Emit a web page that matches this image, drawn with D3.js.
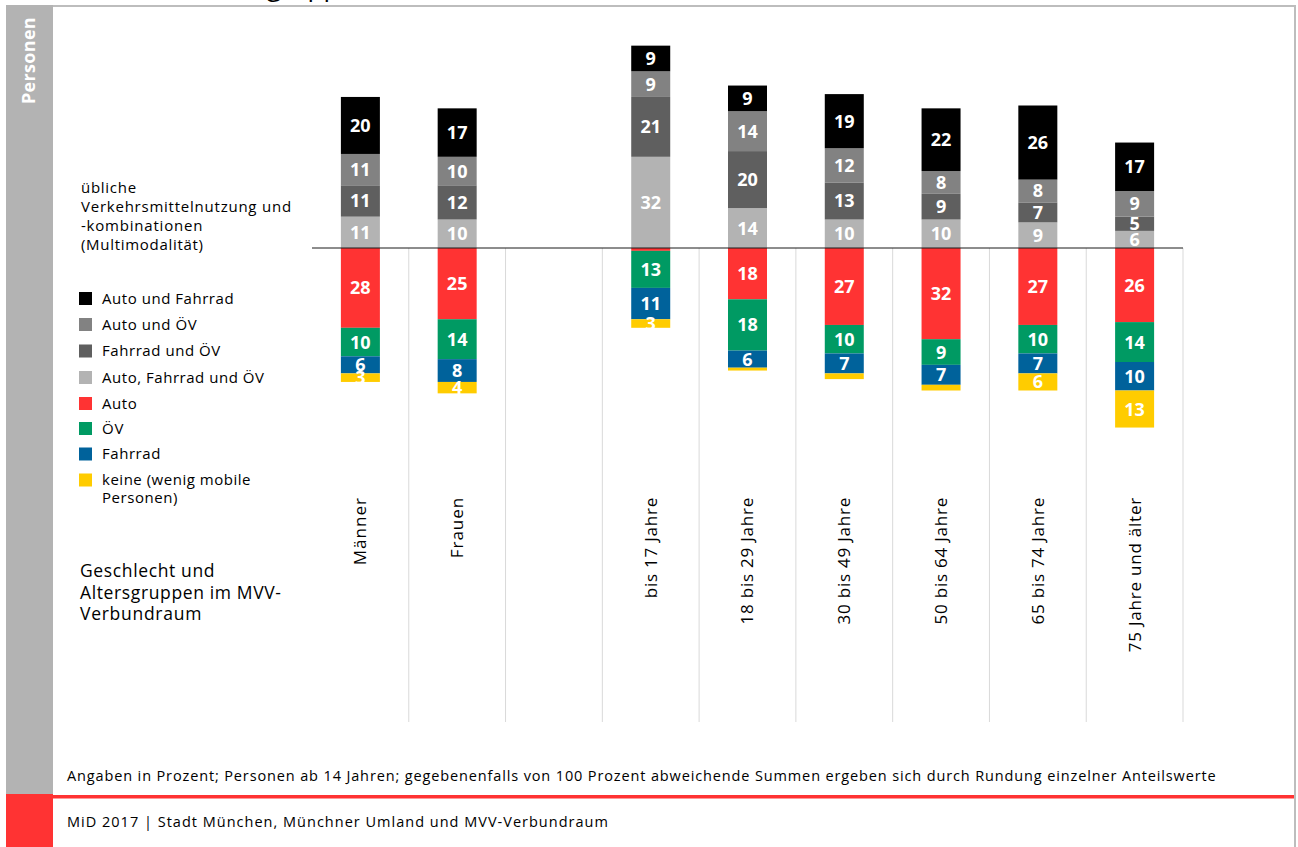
<!DOCTYPE html>
<html><head><meta charset="utf-8">
<script src="https://cdn.jsdelivr.net/npm/d3@7"></script>
<style>
html,body{margin:0;padding:0;background:#fff;}
svg{display:block;font-family:"Open Sans",sans-serif;}
</style></head>
<body>
<svg id="chart" width="1298" height="847"></svg>
<script>
// ---- data ----
const categories = ["Männer","Frauen"," ","bis 17 Jahre","18 bis 29 Jahre","30 bis 49 Jahre","50 bis 64 Jahre","65 bis 74 Jahre","75 Jahre und älter"];
const autoUndFahrrad   = [20,17,null, 9, 9,19,22,26,17];
const autoUndOEV       = [11,10,null, 9,14,12, 8, 8, 9];
const fahrradUndOEV    = [11,12,null,21,20,13, 9, 7, 5];
const autoFahrradOEV   = [11,10,null,32,14,10,10, 9, 6];
const auto             = [28,25,null, 1,18,27,32,27,26];
const oev              = [10,14,null,13,18,10, 9,10,14];
const fahrrad          = [ 6, 8,null,11, 6, 7, 7, 7,10];
const keine            = [ 3, 4,null, 3, 1, 2, 2, 6,13];

const seriesNames = ["Auto und Fahrrad","Auto und ÖV","Fahrrad und ÖV","Auto, Fahrrad und ÖV","Auto","ÖV","Fahrrad","keine (wenig mobile\nPersonen)"];
const seriesColors = ["#000000","#828282","#5f5f5f","#b3b3b3","#ff3333","#009a63","#00629b","#ffcc00"];

// stacking order from the baseline outwards
const upSeries = [
  {values: autoFahrradOEV, color: seriesColors[3]},
  {values: fahrradUndOEV,  color: seriesColors[2]},
  {values: autoUndOEV,     color: seriesColors[1]},
  {values: autoUndFahrrad, color: seriesColors[0]}
];
const downSeries = [
  {values: auto,    color: seriesColors[4]},
  {values: oev,     color: seriesColors[5]},
  {values: fahrrad, color: seriesColors[6]},
  {values: keine,   color: seriesColors[7]}
];

const svg = d3.select("#chart");

// widen text to the reference font's wider set width
function widen(sel, ratio){
  sel.each(function(){
    const t = this;
    const n = (t.textContent||"").length;
    if(!n) return;
    const L = t.getComputedTextLength();
    t.setAttribute("letter-spacing", (L*(ratio-1)/n).toFixed(3));
  });
}

// ---- frame ----
svg.append("text").attr("x",197).attr("y",-4).attr("font-size",26).attr("fill","#000")
  .text("Altersgruppen");
svg.append("rect").attr("x",6).attr("y",5).attr("width",1290).attr("height",2).attr("fill","#bdbdbd");
svg.append("rect").attr("x",1294).attr("y",5).attr("width",2).attr("height",842).attr("fill","#bdbdbd");
svg.append("rect").attr("x",6).attr("y",5).attr("width",47).attr("height",789).attr("fill","#b3b3b3");
svg.append("rect").attr("x",6).attr("y",794).attr("width",47).attr("height",53).attr("fill","#ff3333");
svg.append("rect").attr("x",53).attr("y",795).attr("width",1241).attr("height",3.5).attr("fill","#ff3333");
svg.append("text").attr("transform","translate(29,17) rotate(-90)")
  .attr("text-anchor","end").attr("dy","0.35em")
  .attr("font-size",18).attr("font-weight","bold").attr("fill","#fff").text("Personen")
  .call(widen, 1.03);

// ---- scales ----
const x = d3.scaleBand().domain(categories).range([312,1183]).padding(0);
const y = d3.scaleLinear().domain([-100,100]).range([248+285,248-285]);
const barW = 39;

// column separators
svg.append("g").selectAll("line").data(categories).join("line")
  .attr("x1",d=>x(d)+x.bandwidth()).attr("x2",d=>x(d)+x.bandwidth())
  .attr("y1",y(0)).attr("y2",722)
  .attr("stroke","#d9d9d9").attr("stroke-width",1);

// build segments
const segs = [];
categories.forEach((c,i)=>{
  let acc = 0;
  upSeries.forEach(s=>{
    const v = s.values[i]; if(v==null) return;
    segs.push({c, v, y0: acc, y1: acc+v, color: s.color}); acc += v;
  });
  acc = 0;
  downSeries.forEach(s=>{
    const v = s.values[i]; if(v==null) return;
    segs.push({c, v, y0: acc, y1: acc-v, color: s.color}); acc -= v;
  });
});

const gBars = svg.append("g");
gBars.selectAll("rect").data(segs).join("rect")
  .attr("x",d=>x(d.c)+x.bandwidth()/2-barW/2)
  .attr("width",barW)
  .attr("y",d=>Math.min(y(d.y0),y(d.y1)))
  .attr("height",d=>Math.abs(y(d.y0)-y(d.y1)))
  .attr("fill",d=>d.color);

gBars.selectAll("text").data(segs.filter(d=>d.v>=3)).join("text")
  .attr("x",d=>x(d.c)+x.bandwidth()/2)
  .attr("y",d=>(y(d.y0)+y(d.y1))/2)
  .attr("dy","0.36em").attr("text-anchor","middle")
  .attr("font-size",18).attr("font-weight","bold").attr("fill","#fff")
  .text(d=>d.v);

// baseline
svg.append("line").attr("x1",312).attr("x2",1183).attr("y1",y(0)).attr("y2",y(0))
  .attr("stroke","#1a1a1a").attr("stroke-width",1);

// category labels
svg.append("g").selectAll("text").data(categories.filter(c=>c.trim()!=="")).join("text")
  .attr("transform",d=>`translate(${x(d)+x.bandwidth()/2},497) rotate(-90)`)
  .attr("text-anchor","end").attr("dy","0.35em")
  .attr("font-size",17).attr("fill","#000").text(d=>d)
  .call(widen, 1.10);

// legend title
const titleLines = ["übliche","Verkehrsmittelnutzung und","-kombinationen","(Multimodalität)"];
svg.append("g").selectAll("text").data(titleLines).join("text")
  .attr("x",81).attr("y",(d,i)=>193+i*19).attr("font-size",15).attr("fill","#000").text(d=>d)
  .call(widen, 1.10);

// legend
const legY = [298.5,324.5,351,377.5,403.5,428.5,454,480];
const leg = svg.append("g").selectAll("g").data(seriesNames).join("g")
  .attr("transform",(d,i)=>`translate(0,${legY[i]})`);
leg.append("rect").attr("x",79).attr("y",-6.5).attr("width",13).attr("height",13)
  .attr("fill",(d,i)=>seriesColors[i]);
leg.append("text").attr("x",102).attr("y",5).attr("font-size",15).attr("fill","#000")
  .each(function(d){
    const t = d3.select(this);
    d.split("\n").forEach((ln,k)=>t.append("tspan").attr("x",102).attr("dy",k?18:0).text(ln));
  });
leg.selectAll("tspan").each(function(){
  const n = this.textContent.length;
  const L = this.getComputedTextLength();
  this.setAttribute("letter-spacing",(L*0.07/n).toFixed(3));
});

// group label
const grpLines = ["Geschlecht und","Altersgruppen im MVV-","Verbundraum"];
svg.append("g").selectAll("text").data(grpLines).join("text")
  .attr("x",80).attr("y",(d,i)=>577+i*21.5).attr("font-size",17.5).attr("fill","#000").text(d=>d)
  .call(widen, 1.07);

// footnote & footer
svg.append("text").attr("x",67).attr("y",781).attr("font-size",14.5).attr("fill","#000")
  .text("Angaben in Prozent; Personen ab 14 Jahren; gegebenenfalls von 100 Prozent abweichende Summen ergeben sich durch Rundung einzelner Anteilswerte")
  .call(widen, 1.12);
svg.append("text").attr("x",67).attr("y",827).attr("font-size",14.5).attr("fill","#000")
  .text("MiD 2017  | Stadt München, Münchner Umland und MVV-Verbundraum")
  .call(widen, 1.13);
</script>
</body></html>
